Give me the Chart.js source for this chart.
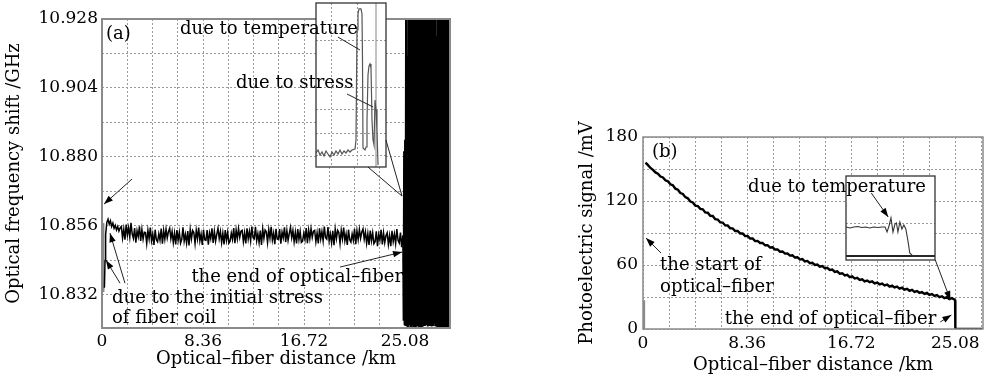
<!DOCTYPE html>
<html><head><meta charset="utf-8">
<script src="https://cdn.jsdelivr.net/npm/chart.js@4.4.1/dist/chart.umd.min.js"></script>
<style>
html,body{margin:0;padding:0;background:#fff;}
#wrap{position:relative;width:988px;height:376px;overflow:hidden;background:#fff;}
canvas{position:absolute;top:0;}
</style></head><body>
<div id="wrap">
<canvas id="ca" style="left:0px" width="460" height="376"></canvas>
<canvas id="cai" style="left:0px" width="460" height="376"></canvas>
<canvas id="cb" style="left:574px" width="414" height="376"></canvas>
<canvas id="cbi" style="left:574px" width="414" height="376"></canvas>
</div>
<script>
// ---------- panel (a) data ----------
const aXTitle = 'Optical–fiber distance /km';
const aYTitle = 'Optical frequency shift /GHz';
const aXLabelVals = [0, 8.36, 16.72, 25.08];
const aXLabels = ['0', '8.36', '16.72', '25.08'];
const aYLabelVals = [10.832, 10.856, 10.880, 10.904, 10.928];
const aYLabels = ['10.832', '10.856', '10.880', '10.904', '10.928'];
const aGridX = [0, 2.09, 4.18, 6.27, 8.36, 10.45, 12.54, 14.63, 16.72, 18.81, 20.90, 22.99, 25.08, 27.17];
const aGridY = [10.832, 10.844, 10.856, 10.868, 10.880, 10.892, 10.904, 10.916, 10.928];

const aStartX = [0.2, 0.25, 0.3, 0.4, 0.5, 0.6, 0.7, 0.8, 0.9, 1.0, 1.1, 1.2, 1.3, 1.4, 1.5];
const aStartY = [10.8345, 10.8440, 10.8530, 10.8572, 10.8583, 10.8566, 10.8578, 10.8558, 10.8570, 10.8552, 10.8562, 10.8546, 10.8558, 10.8542, 10.8553];

const aBandStart = 1.6, aBandStep = 0.1;
const aBandY = [
10.8558,10.8518,10.8549,10.8512,10.8565,10.8528,10.8554,10.8521,10.8571,10.8532,
10.8517,10.8553,10.8502,10.8543,10.8523,10.8559,10.8508,10.8548,10.8514,10.8538,
10.8537,10.8499,10.8545,10.8515,10.8554,10.8508,10.8532,10.8494,10.8547,10.8512,
10.8505,10.8533,10.8511,10.8551,10.8498,10.8544,10.8514,10.8549,10.8518,10.8540,
10.8552,10.8516,10.8541,10.8502,10.8535,10.8496,10.8546,10.8510,10.8538,10.8500,
10.8513,10.8555,10.8507,10.8531,10.8500,10.8542,10.8492,10.8548,10.8515,10.8544,
10.8537,10.8499,10.8545,10.8515,10.8554,10.8508,10.8532,10.8494,10.8547,10.8512,
10.8510,10.8546,10.8495,10.8536,10.8516,10.8552,10.8501,10.8541,10.8507,10.8531,
10.8552,10.8516,10.8541,10.8502,10.8535,10.8496,10.8546,10.8510,10.8538,10.8500,
10.8507,10.8535,10.8513,10.8553,10.8500,10.8546,10.8516,10.8551,10.8520,10.8542,
10.8545,10.8505,10.8536,10.8499,10.8552,10.8515,10.8541,10.8508,10.8558,10.8519,
10.8515,10.8557,10.8509,10.8533,10.8502,10.8544,10.8494,10.8550,10.8517,10.8546,
10.8540,10.8502,10.8548,10.8518,10.8557,10.8511,10.8535,10.8497,10.8550,10.8515,
10.8513,10.8549,10.8498,10.8539,10.8519,10.8555,10.8504,10.8544,10.8510,10.8534,
10.8555,10.8519,10.8544,10.8505,10.8538,10.8499,10.8549,10.8513,10.8541,10.8503,
10.8507,10.8535,10.8513,10.8553,10.8500,10.8546,10.8516,10.8551,10.8520,10.8542,
10.8545,10.8505,10.8536,10.8499,10.8552,10.8515,10.8541,10.8508,10.8558,10.8519,
10.8514,10.8556,10.8508,10.8532,10.8501,10.8543,10.8493,10.8549,10.8516,10.8545,
10.8537,10.8499,10.8545,10.8515,10.8554,10.8508,10.8532,10.8494,10.8547,10.8512,
10.8504,10.8532,10.8510,10.8550,10.8497,10.8543,10.8513,10.8548,10.8517,10.8539,
10.8550,10.8514,10.8539,10.8500,10.8533,10.8494,10.8544,10.8508,10.8536,10.8498,
10.8505,10.8541,10.8490,10.8531,10.8511,10.8547,10.8496,10.8536,10.8502,10.8526,
10.8536,10.8496,10.8527,10.8490,10.8543,10.8506,10.8532,10.8499,10.8549,10.8510,
10.8501,10.8537,10.8486,10.8527];

const aEndStart = 24.92, aEndStep = 0.04;
const aEndY = [
10.8525,10.8230,10.8820,10.8215,10.8860,10.8212,10.9278,10.8220,10.9278,10.8210,
10.9150,10.8218,10.9278,10.8225,10.9278,10.8212,10.9050,10.8240,10.9278,10.8215,
10.9278,10.8210,10.9200,10.8230,10.9278,10.8212,10.8950,10.8220,10.9278,10.8214,
10.9278,10.8260,10.9278,10.8210,10.9100,10.8225,10.9278,10.8212,10.9278,10.8218,
10.9020,10.8210,10.9278,10.8230,10.9278,10.8212,10.9180,10.8215,10.9278,10.8300,
10.9278,10.8210,10.8980,10.8222,10.9278,10.8212,10.9278,10.8218,10.9120,10.8210,
10.9278,10.8235,10.9278,10.8212,10.9060,10.8220,10.9278,10.8210,10.9278,10.8216,
10.9220,10.8212,10.9278,10.8228,10.9000,10.8210,10.9278,10.8215,10.9278,10.8212,
10.9150,10.8222,10.9278,10.8210,10.9278,10.8218,10.9080,10.8212,10.9278,10.8225,
10.9278,10.8210,10.9130,10.8215,10.9278,10.8212,10.9050,10.8220];

const aSpikeX = [0.12, 0.12];
const aSpikeY = [10.8330, 10.8570];

// inset of (a)
const insetAX = [25.000,25.004,25.008,25.012,25.016,25.020,25.024,25.028,25.032,25.036,25.040,25.044,25.048,25.052,25.056,25.060,25.064,25.068,25.072,
  25.078,25.080,25.082,25.084,25.086,25.090,25.092,25.093,25.094,25.098,25.100,25.102,25.104,25.106,25.108,25.110,25.112,25.114,25.116,25.118,25.120,25.122,25.124];
const insetAY = [10.8537,10.8566,10.8517,10.8546,10.8507,10.8556,10.8527,10.8498,10.8546,10.8517,10.8556,10.8527,10.8566,10.8527,10.8556,10.8537,10.8566,10.8546,10.8566,
  10.8576,10.8663,10.9737,10.9893,10.9942,10.9942,10.9893,10.9444,10.8585,10.8566,10.8595,10.8859,10.9298,10.9385,10.9405,10.9366,10.8859,10.8663,10.8615,10.9054,10.8956,10.8761,10.8420];
const insetALineX = [25.12, 25.12];
const insetALineY = [10.84, 11.00];
const insetAGridX = [25.032, 25.082];
const insetAGridY = [10.851, 10.873, 10.896, 10.918, 10.963];

// ---------- panel (b) data ----------
const bYTitle = 'Photoelectric signal /mV';
const bXLabelVals = [0, 8.36, 16.72, 25.08];
const bXLabels = ['0', '8.36', '16.72', '25.08'];
const bYLabelVals = [0, 60, 120, 180];
const bYLabels = ['0', '60', '120', '180'];
const bGridX = [0, 2.09, 4.18, 6.27, 8.36, 10.45, 12.54, 14.63, 16.72, 18.81, 20.90, 22.99, 25.08, 27.17];
const bGridY = [0, 30, 60, 90, 120, 150, 180];

const bStart = 0.2, bStep = 0.2;
const bY = [
156.0,153.6,151.0,149.2,146.8, 145.6,142.9,142.1,139.4,138.5,
135.6,134.7,131.5,130.6,127.5, 126.6,123.6,122.5,119.5,118.6,
115.7,115.3,112.6,112.2,109.3, 109.0,106.1,106.0,102.9,102.6,
100.0,99.8,97.1,97.0,94.4, 94.3,91.9,91.9,89.6,89.6,
87.1,87.2,84.8,84.9,82.4, 82.6,80.6,80.7,78.5,78.6,
76.4,76.6,74.5,74.6,72.5, 72.7,70.7,70.9,68.8,69.1,
67.0,67.3,65.1,65.6,63.3, 63.8,61.7,62.1,60.0,60.5,
58.5,59.0,56.9,57.4,55.4, 55.7,53.6,54.1,51.8,52.3,
50.3,50.8,48.7,49.3,47.3, 47.9,46.0,46.6,44.7,45.4,
43.9,44.6,42.8,43.6,41.9, 42.6,40.9,41.6,39.8,40.6,
38.9,39.7,37.8,38.7,36.8, 37.6,35.8,36.7,34.8,35.6,
33.9,34.7,32.9,33.8,32.0, 32.7,31.0,31.8,29.9,30.7,
29.0,29.8,28.0,28.9,27.6];
const bTailX = [25.06, 25.08, 27.3];
const bTailY = [27.0, 0, 0];
const bSpikeX = [0.05, 0.05];
const bSpikeY = [0, 27];

// inset of (b)
const insetBX = [24.960,24.968,24.976,24.984,24.992,25.000,25.008,25.016,25.025,25.033,25.039,25.043,25.047,25.051,25.055,25.059,25.062,25.065,25.069,25.073,25.077,25.081,25.085,25.089,25.095,25.110,25.140];
const insetBY = [29,28,29,29.5,28.5,29,28,29,28.5,29,29,24,30,38,24,32,33,24,34,27,31,27,16,3,0,0,0];
const insetBZeroX = [24.96, 25.14];
const insetBZeroY = [0, 0];
const insetBGridY = [33];

// ---------- helpers ----------
const FAM = "'DejaVu Serif', serif";
Chart.defaults.font.family = FAM;
Chart.defaults.font.size = 17;
Chart.defaults.color = '#000';
const titleFont = {family: FAM, size: 18};
const zip = (xs, ys) => xs.map((x, i) => ({x: x, y: ys[i]}));
const seq = (start, step, ys) => ys.map((y, i) => ({x: +(start + i * step).toFixed(4), y: y}));
const labelFor = (v, vals, labs) => { const i = vals.findIndex(t => Math.abs(t - v) < 1e-6); return i >= 0 ? labs[i] : ''; };
const gridCol = '#9a9a9a';

function framePlugin(color, w) {
  return {id: 'frame', afterDatasetsDraw(c) {
    const a = c.chartArea, ctx = c.ctx;
    ctx.save(); ctx.strokeStyle = color; ctx.lineWidth = w;
    ctx.strokeRect(a.left, a.top, a.right - a.left, a.bottom - a.top);
    ctx.restore();
  }};
}
function arrow(ctx, x1, y1, x2, y2, head) {
  ctx.beginPath(); ctx.moveTo(x1, y1); ctx.lineTo(x2, y2); ctx.stroke();
  if (head) {
    const an = Math.atan2(y2 - y1, x2 - x1), L = 9, W = 3.2;
    ctx.beginPath(); ctx.moveTo(x2, y2);
    ctx.lineTo(x2 - L * Math.cos(an) + W * Math.sin(an), y2 - L * Math.sin(an) - W * Math.cos(an));
    ctx.lineTo(x2 - L * Math.cos(an) - W * Math.sin(an), y2 - L * Math.sin(an) + W * Math.cos(an));
    ctx.closePath(); ctx.fill();
  }
}
function insetPlugin(main, notes) {
  return {
    id: 'inset',
    beforeDraw(c) { const a = c.chartArea; c.ctx.save(); c.ctx.fillStyle = '#fff'; c.ctx.fillRect(a.left, a.top, a.right - a.left, a.bottom - a.top); c.ctx.restore(); },
    afterDraw(c) {
      const a = c.chartArea, ctx = c.ctx, sx = main.scales.x, sy = main.scales.y;
      ctx.save();
      ctx.strokeStyle = '#333'; ctx.lineWidth = 1.3;
      ctx.strokeRect(a.left, a.top, a.right - a.left, a.bottom - a.top);
      ctx.strokeStyle = '#222'; ctx.fillStyle = '#000'; ctx.lineWidth = 1;
      notes.lines.forEach(l => arrow(ctx, sx.getPixelForValue(l[0]), sy.getPixelForValue(l[1]), sx.getPixelForValue(l[2]), sy.getPixelForValue(l[3]), l[4]));
      ctx.font = "18px " + FAM; ctx.textBaseline = 'middle';
      notes.texts.forEach(t => { ctx.textAlign = t.align || 'left'; ctx.fillText(t.t, sx.getPixelForValue(t.x), sy.getPixelForValue(t.y)); });
      ctx.restore();
    }
  };
}
function hiddenAxis(min, max, grid, horiz) {
  return {type: 'linear', min: min, max: max,
    ticks: {display: false}, grid: {color: gridCol, drawTicks: false, display: grid.length > 0},
    border: {display: false, dash: [2, 2]},
    afterBuildTicks: s => { s.ticks = grid.map(v => ({value: v})); },
    afterFit: s => { if (horiz) s.height = 0; else s.width = 0; }};
}
const base = {responsive: false, animation: false, devicePixelRatio: 1, events: [],
  plugins: {legend: {display: false}, tooltip: {enabled: false}}};

// ---------- chart (a) ----------
const seriesA = zip(aStartX, aStartY).concat(seq(aBandStart, aBandStep, aBandY));
const seriesAEnd = seq(aEndStart, aEndStep, aEndY);
const chartA = new Chart(document.getElementById('ca'), {
  type: 'line',
  data: {datasets: [
    {data: seriesA, borderColor: '#000', borderWidth: 1.5, pointRadius: 0, tension: 0},
    {data: seriesAEnd, borderColor: '#000', borderWidth: 2, pointRadius: 0, tension: 0},
    {data: zip(aSpikeX, aSpikeY), borderColor: '#888', borderWidth: 2, pointRadius: 0}
  ]},
  options: Object.assign({}, base, {
    layout: {padding: {left: 0, top: 19, right: 10, bottom: 0}},
    scales: {
      x: {type: 'linear', min: 0, max: 28.8,
        afterBuildTicks: s => { s.ticks = aGridX.map(v => ({value: v})); },
        afterFit: s => { s.height = 48; },
        ticks: {autoSkip: false, maxRotation: 0, padding: 3, callback: v => labelFor(v, aXLabelVals, aXLabels)},
        grid: {color: gridCol, drawTicks: false}, border: {display: false, dash: [2, 2]},
        title: {display: true, text: aXTitle, font: titleFont, padding: {top: 0, bottom: 6}}},
      y: {type: 'linear', min: 10.8205, max: 10.928,
        afterBuildTicks: s => { s.ticks = aGridY.map(v => ({value: v})); },
        afterFit: s => { s.width = 102; },
        ticks: {autoSkip: false, padding: 4, callback: v => labelFor(v, aYLabelVals, aYLabels)},
        grid: {color: gridCol, drawTicks: false}, border: {display: false, dash: [2, 2]},
        title: {display: true, text: aYTitle, font: titleFont, padding: {top: 4, bottom: 0}}}
    }
  }),
  plugins: [framePlugin('#8a8a8a', 2)]
});

const notesA = {
  texts: [
    {t: '(a)', x: 0.33, y: 10.9228},
    {t: 'due to temperature', x: 6.46, y: 10.9245},
    {t: 'due to stress', x: 11.09, y: 10.9057},
    {t: 'the end of optical–fiber', x: 24.91, y: 10.8382, align: 'right'},
    {t: 'due to the initial stress', x: 0.83, y: 10.8309},
    {t: 'of fiber coil', x: 0.83, y: 10.8240}
  ],
  lines: [
    [19.53, 10.9217, 21.35, 10.9172, false],
    [20.28, 10.9019, 22.43, 10.8974, false],
    [19.70, 10.8417, 24.83, 10.8469, true],
    [1.90, 10.8361, 0.66, 10.8535, true],
    [1.49, 10.8361, 0.33, 10.8441, true],
    [2.48, 10.8723, 0.17, 10.8636, true],
    [22.01, 10.8765, 24.83, 10.8664, false],
    [23.50, 10.8859, 24.83, 10.8664, false]
  ]
};
new Chart(document.getElementById('cai'), {
  type: 'line',
  data: {datasets: [
    {data: zip(insetAX, insetAY), borderColor: '#555', borderWidth: 1.2, pointRadius: 0, tension: 0},
    {data: zip(insetALineX, insetALineY), borderColor: '#999', borderWidth: 1.2, pointRadius: 0}
  ]},
  options: Object.assign({}, base, {
    layout: {padding: {left: 316, top: 3, right: 74, bottom: 209}},
    scales: {x: hiddenAxis(25.0, 25.14, insetAGridX, true), y: hiddenAxis(10.84, 11.0, insetAGridY, false)}
  }),
  plugins: [insetPlugin(chartA, notesA)]
});

// ---------- chart (b) ----------
const seriesB = seq(bStart, bStep, bY).concat(zip(bTailX, bTailY));
const chartB = new Chart(document.getElementById('cb'), {
  type: 'line',
  data: {datasets: [
    {data: seriesB, borderColor: '#000', borderWidth: 2.4, pointRadius: 0, tension: 0},
    {data: zip(bSpikeX, bSpikeY), borderColor: '#888', borderWidth: 3, pointRadius: 0}
  ]},
  options: Object.assign({}, base, {
    layout: {padding: {left: 0, top: 137, right: 5, bottom: 0}},
    scales: {
      x: {type: 'linear', min: 0, max: 27.3,
        afterBuildTicks: s => { s.ticks = bGridX.map(v => ({value: v})); },
        afterFit: s => { s.height = 47; },
        ticks: {autoSkip: false, maxRotation: 0, padding: 4, callback: v => labelFor(v, bXLabelVals, bXLabels)},
        grid: {color: gridCol, drawTicks: false}, border: {display: false, dash: [2, 2]},
        title: {display: true, text: aXTitle, font: titleFont, padding: {top: 0, bottom: 0}}},
      y: {type: 'linear', min: 0, max: 180,
        afterBuildTicks: s => { s.ticks = bGridY.map(v => ({value: v})); },
        afterFit: s => { s.width = 69; },
        ticks: {autoSkip: false, padding: 5, callback: v => labelFor(v, bYLabelVals, bYLabels)},
        grid: {color: gridCol, drawTicks: false}, border: {display: false, dash: [2, 2]},
        title: {display: true, text: bYTitle, font: titleFont, padding: {top: 3, bottom: 0}}}
    }
  }),
  plugins: [framePlugin('#8a8a8a', 1.5)]
});

const notesB = {
  texts: [
    {t: '(b)', x: 0.72, y: 165.9},
    {t: 'due to temperature', x: 8.44, y: 133.1},
    {t: 'the start of', x: 1.37, y: 60.0},
    {t: 'optical–fiber', x: 1.37, y: 39.4},
    {t: 'the end of optical–fiber', x: 23.55, y: 9.4, align: 'right'}
  ],
  lines: [
    [1.45, 71.2, 0.24, 85.3, true],
    [23.47, 64.7, 24.68, 27.2, true],
    [23.87, 6.6, 24.76, 13.1, true],
    [18.33, 127.5, 19.69, 105.0, true]
  ]
};
new Chart(document.getElementById('cbi'), {
  type: 'line',
  data: {datasets: [
    {data: zip(insetBX, insetBY), borderColor: '#333', borderWidth: 1.1, pointRadius: 0, tension: 0},
    {data: zip(insetBZeroX, insetBZeroY), borderColor: '#222', borderWidth: 2, pointRadius: 0}
  ]},
  options: Object.assign({}, base, {
    layout: {padding: {left: 272, top: 176, right: 53, bottom: 116}},
    scales: {x: hiddenAxis(24.96, 25.14, [], true), y: hiddenAxis(-4, 80, insetBGridY, false)}
  }),
  plugins: [insetPlugin(chartB, notesB)]
});
</script>
</body></html>
